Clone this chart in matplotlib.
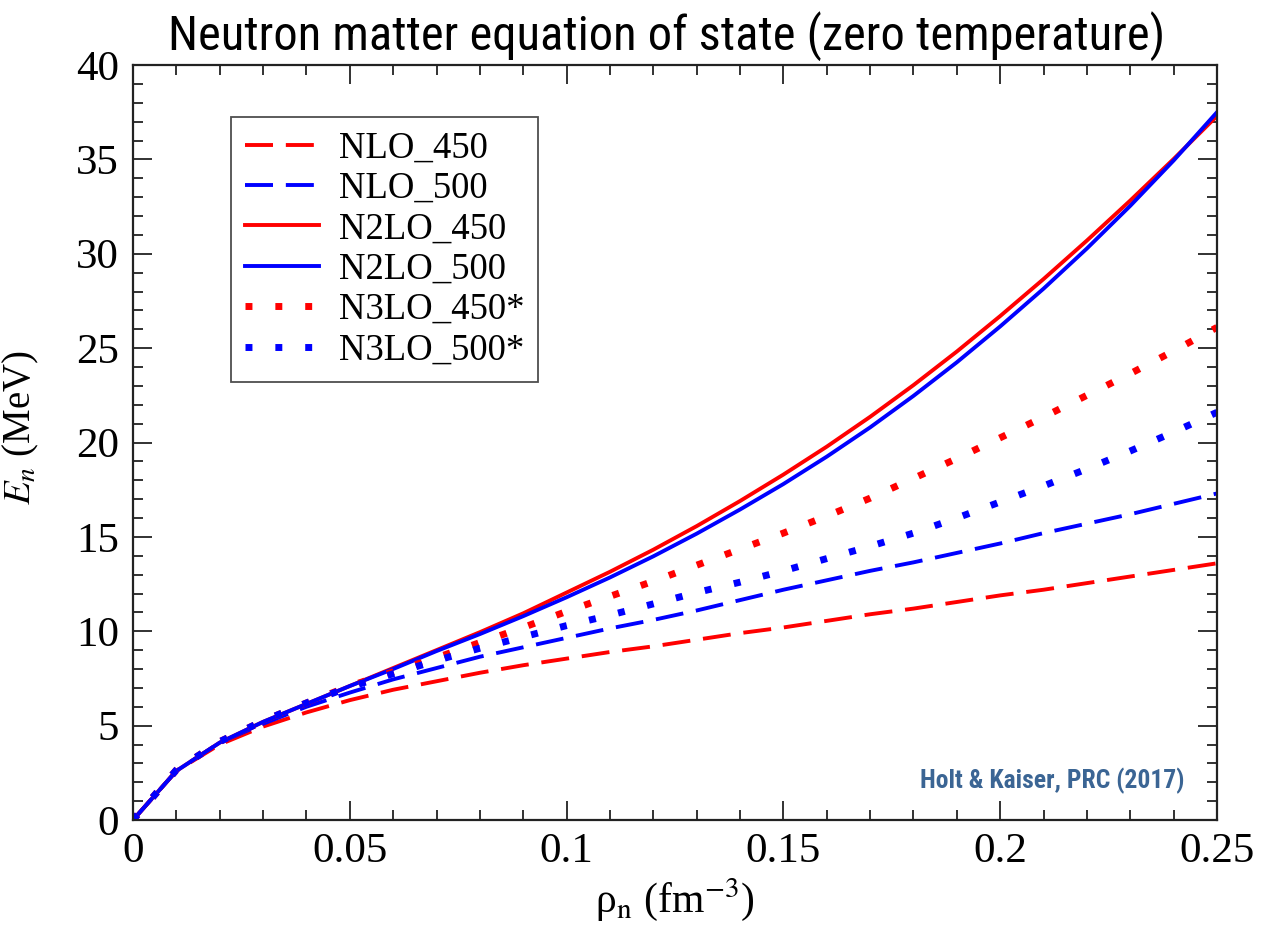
import os
import matplotlib
matplotlib.use("Agg")
import matplotlib.pyplot as plt
from matplotlib import font_manager
from matplotlib.font_manager import FontProperties
from matplotlib.ticker import MultipleLocator

rho = [0.00, 0.01, 0.02, 0.03, 0.04, 0.05, 0.06, 0.07, 0.08, 0.09, 0.10,
       0.11, 0.12, 0.13, 0.14, 0.15, 0.16, 0.17, 0.18, 0.19, 0.20,
       0.21, 0.22, 0.23, 0.24, 0.25]

nlo_450 = [0, 2.6, 4.0, 4.95, 5.7, 6.35, 6.9, 7.35, 7.8, 8.2, 8.55,
           8.9, 9.2, 9.55, 9.9, 10.2, 10.55, 10.9, 11.2, 11.55, 11.9,
           12.2, 12.55, 12.9, 13.25, 13.6]
nlo_500 = [0, 2.6, 4.1, 5.1, 6.0, 6.75, 7.45, 8.05, 8.65, 9.15, 9.65,
           10.15, 10.6, 11.1, 11.65, 12.2, 12.7, 13.2, 13.65, 14.15, 14.65,
           15.2, 15.7, 16.2, 16.75, 17.3]
n2lo_450 = [0, 2.6, 4.1, 5.2, 6.15, 7.1, 8.05, 9.0, 9.95, 10.95, 12.05,
            13.15, 14.32, 15.57, 16.9, 18.3, 19.78, 21.36, 23.04, 24.82, 26.7,
            28.66, 30.7, 32.82, 35.02, 37.3]
n2lo_500 = [0, 2.6, 4.1, 5.2, 6.15, 7.1, 8.0, 8.95, 9.85, 10.8, 11.8,
            12.85, 13.97, 15.17, 16.45, 17.8, 19.25, 20.8, 22.47, 24.25, 26.15,
            28.15, 30.28, 32.54, 34.94, 37.5]
n3lo_450 = [0, 2.65, 4.15, 5.25, 6.2, 7.1, 7.85, 8.6, 9.4, 10.2, 11.05,
            11.85, 12.65, 13.5, 14.35, 15.2, 16.1, 17.05, 18.1, 19.15, 20.25,
            21.35, 22.5, 23.65, 24.85, 26.1]
n3lo_500 = [0, 2.65, 4.15, 5.25, 6.2, 7.05, 7.75, 8.45, 9.1, 9.7, 10.3,
            10.85, 11.45, 12.05, 12.6, 13.2, 13.85, 14.5, 15.2, 16.0, 16.85,
            17.7, 18.6, 19.55, 20.55, 21.6]

labels = ["NLO_450", "NLO_500", "N2LO_450", "N2LO_500", "N3LO_450*", "N3LO_500*"]
xtick_vals = [0, 0.05, 0.1, 0.15, 0.2, 0.25]
xtick_labels = ["0", "0.05", "0.1", "0.15", "0.2", "0.25"]
ytick_vals = [0, 5, 10, 15, 20, 25, 30, 35, 40]
ytick_labels = ["0", "5", "10", "15", "20", "25", "30", "35", "40"]


def find_condensed(bold):
    prefs = ['robotocondensed', 'liberationsansnarrow', 'opensanscondensed',
             'dejavusanscondensed', 'notosanscondensed', 'latocondensed',
             'intercondensed']
    cands = {}
    for f in font_manager.fontManager.ttflist:
        base = os.path.basename(f.fname).lower()
        key = base.replace('-', '').replace('_', '').replace(' ', '')
        bad = ['italic', 'oblique', 'light', 'thin', 'medium', 'black',
               'semi', 'extra', 'ultra']
        if any(b in key for b in bad):
            continue
        isbold = 'bold' in key
        if isbold != bold:
            continue
        for i, p in enumerate(prefs):
            if key.startswith(p):
                cands.setdefault(i, f.fname)
    if cands:
        return FontProperties(fname=cands[min(cands)])
    return None


plt.rcParams['font.family'] = ['Liberation Serif', 'DejaVu Serif']
plt.rcParams['mathtext.fontset'] = 'stix'

fig = plt.figure(figsize=(12.61, 9.43), dpi=100)
ax = fig.add_axes([133/1261, 123/943, (1217-133)/1261, (820-65)/943])

dash = (7.2, 3.3)
dot = (1.0, 3.3)
ax.plot(rho, nlo_450, color='#ff0000', lw=2.8, dashes=dash, label=labels[0])
ax.plot(rho, nlo_500, color='#0000ff', lw=2.8, dashes=dash, label=labels[1])
ax.plot(rho, n2lo_450, color='#ff0000', lw=2.8, label=labels[2])
ax.plot(rho, n2lo_500, color='#0000ff', lw=2.8, label=labels[3])
l5, = ax.plot(rho, n3lo_450, color='#ff0000', lw=5.0, dashes=dot, label=labels[4])
l6, = ax.plot(rho, n3lo_500, color='#0000ff', lw=5.0, dashes=dot, label=labels[5])
for l in (l5, l6):
    l.set_dash_capstyle('butt')

ax.set_xlim(0, 0.25)
ax.set_ylim(0, 40)
ax.xaxis.set_minor_locator(MultipleLocator(0.01))
ax.yaxis.set_minor_locator(MultipleLocator(1))
ax.set_xticks(xtick_vals)
ax.set_xticklabels(xtick_labels)
ax.set_yticks(ytick_vals)
ax.set_yticklabels(ytick_labels)

ax.tick_params(which='both', direction='in', top=True, right=True,
               width=1.3, color='#222222')
ax.tick_params(which='major', length=14, labelsize=31)
ax.tick_params(which='minor', length=7)
ax.tick_params(axis='y', which='major', pad=10)
ax.tick_params(axis='x', which='major', pad=9)
for s in ax.spines.values():
    s.set_linewidth(1.6)
    s.set_color('#222222')

ax.set_xlabel('ρ$_\\mathrm{n}$ (fm$^{-3}$)', fontsize=30, labelpad=4)
ax.set_ylabel('$E_n$ (MeV)', fontsize=28)
ax.yaxis.set_label_coords(-0.085, 0.52)

leg = ax.legend(loc='upper left', bbox_to_anchor=(0.0904, 0.931),
                borderaxespad=0, fontsize=26.5, frameon=True, fancybox=False,
                handlelength=2.0, handletextpad=0.55, labelspacing=0.16,
                borderpad=0.38)
leg.get_frame().set_edgecolor('#222222')
leg.get_frame().set_linewidth(1.3)

# condensed sans fonts for title and credit
fp_reg = find_condensed(False)
fp_bold = find_condensed(True)

ann_kw = dict(ha='left', va='baseline', color='#3b6594')
if fp_bold is not None:
    ann = ax.text((920-133)/1084, (820-788)/755, 'Holt & Kaiser, PRC (2017)',
                  transform=ax.transAxes, fontproperties=fp_bold, **ann_kw)
else:
    ann = ax.text((920-133)/1084, (820-788)/755, 'Holt & Kaiser, PRC (2017)',
                  transform=ax.transAxes, family='DejaVu Sans',
                  fontweight='bold', **ann_kw)
ann.set_fontsize(28)

tit_kw = dict(ha='center', va='baseline')
if fp_reg is not None:
    tit = fig.text(667/1261, 1 - 50/943,
                   'Neutron matter equation of state (zero temperature)',
                   fontproperties=fp_reg, **tit_kw)
else:
    tit = fig.text(667/1261, 1 - 50/943,
                   'Neutron matter equation of state (zero temperature)',
                   family='DejaVu Sans', **tit_kw)
tit.set_fontsize(34)

# fit the widths of the two sans texts to the reference
fig.canvas.draw()
r = fig.canvas.get_renderer()
for t, target in ((tit, 1000.0), (ann, 265.0)):
    w = t.get_window_extent(r).width
    t.set_fontsize(t.get_fontsize() * target / w)

fig.savefig('out.png', dpi=100)
